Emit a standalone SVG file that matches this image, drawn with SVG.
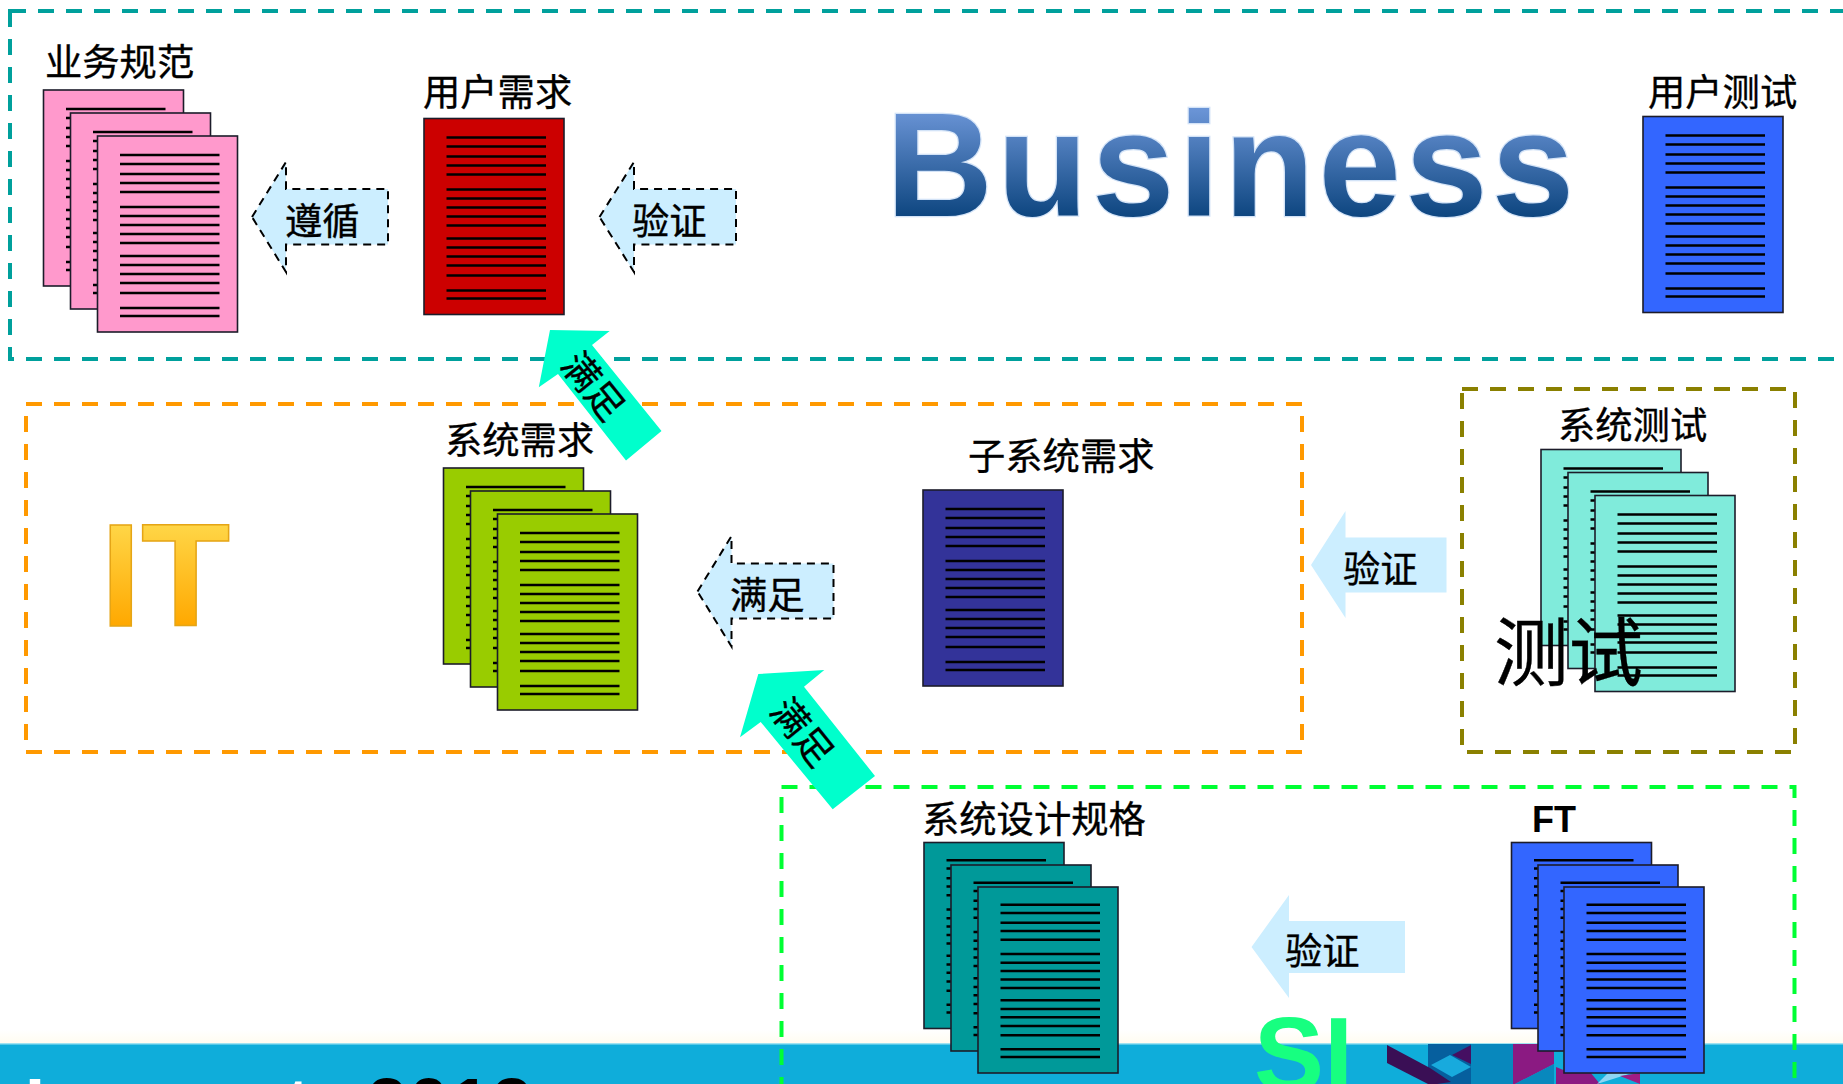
<svg xmlns="http://www.w3.org/2000/svg" xmlns:xlink="http://www.w3.org/1999/xlink" width="1843" height="1084" viewBox="0 0 1843 1084">
<style>
.t{font-family:"Noto Sans CJK SC","Noto Sans CJK JP",sans-serif;font-size:37.300px;fill:#000;stroke:#000;stroke-width:.35}
.b{font-family:"Liberation Sans",Arial,sans-serif;font-weight:700}
.box{fill:none;stroke-width:4;stroke-dasharray:16 12}
.page{stroke:#1c1c2a;stroke-width:1.6}
.ln{fill:none;stroke:#000;stroke-width:2.5}
.da{fill:#cceeff;stroke:#000;stroke-width:2;stroke-dasharray:8 6}
.sa{fill:#cceeff}
.ma{fill:#00ffcc}
</style>
<defs>
<linearGradient id="bizg" gradientUnits="userSpaceOnUse" x1="0" y1="110" x2="0" y2="216"><stop offset="0" stop-color="#6a94d6"/><stop offset="1" stop-color="#0e4680"/></linearGradient>
<linearGradient id="itg" gradientUnits="userSpaceOnUse" x1="0" y1="520" x2="0" y2="626"><stop offset="0" stop-color="#ffd84a"/><stop offset="1" stop-color="#ffa800"/></linearGradient>
<linearGradient id="fade" x1="0" y1="0" x2="0" y2="1"><stop offset="0" stop-color="#ffffff"/><stop offset="1" stop-color="#fffcf0"/></linearGradient>
<path id="lines" class="ln" d="M22.5 19H122M22.5 28H122M22.5 38H122M22.5 47H122M22.5 56H122M22.5 71H122M22.5 80H122M22.5 89H122M22.5 98H122M22.5 107H122M22.5 120H122M22.5 129H122M22.5 138H122M22.5 147H122M22.5 157H122M22.5 172H122M22.5 180H122"/>
<path id="lines-s" class="ln" d="M22.5 17.7H122M22.5 26H122M22.5 35.7H122M22.5 44H122M22.5 52.7H122M22.5 67H122M22.5 75.7H122M22.5 84H122M22.5 92.5H122M22.5 101H122M22.5 113.3H122M22.5 122H122M22.5 130.3H122M22.5 139H122M22.5 148.3H122M22.5 162.3H122M22.5 170H122"/>
<g id="page"><rect class="page" width="140" height="196"/><use href="#lines"/></g>
<g id="page-s"><rect class="page" width="140" height="186"/><use href="#lines-s"/></g>
</defs>
<rect width="1843" height="1084" fill="#fff"/>

<g id="banner">
<rect x="0" y="1030" width="1843" height="13" fill="url(#fade)"/>
<rect x="0" y="1043" width="1843" height="41" fill="#0fadda"/>
<rect x="0" y="1043" width="1843" height="1.5" fill="#9fe3f2"/>
<rect x="1428" y="1044" width="85" height="40" fill="#0888bd"/>
<rect x="1428" y="1044" width="43" height="40" fill="#065f9e"/>
<polygon points="1387,1045 1430,1068 1451,1082 1437,1084 1428,1084 1387,1063" fill="#3a0f55"/>
<polygon points="1431,1065 1450,1055 1471,1067 1452,1077" fill="#18aadd"/>
<polygon points="1452,1055 1471,1045 1471,1064" fill="#450f62"/>
<polygon points="1513,1044 1554,1044 1554,1064 1515,1084 1513,1084" fill="#8b1a82"/>
<polygon points="1554,1064 1554,1084 1515,1084" fill="#0888bd"/>
<polygon points="1556,1067 1598,1084 1556,1084" fill="#8b1a82"/>
<polygon points="1564,1072 1590,1072 1600,1084 1564,1084" fill="#8b1a82"/>
<polygon points="1597,1084 1608,1073 1632,1073" fill="#8ed6f4"/>
<polygon points="1620,1076 1640,1073 1640,1084" fill="#a01c84"/>
<text class="b" x="25" y="1129" font-size="72" fill="#fff" textLength="285">Impact</text>
<text class="b" x="367" y="1129" font-size="72" fill="#000" textLength="165">2013</text>
</g>

<g id="region-business"><rect class="box" x="10" y="11" width="1900" height="348" stroke="#00a09c"/></g>
<g id="region-it"><rect class="box" x="26" y="404" width="1276" height="348" stroke="#ff9900"/></g>
<g id="region-test"><rect class="box" x="1462" y="389" width="333" height="363" stroke="#8a8000"/></g>
<g id="region-si"><rect class="box" x="781.500" y="787" width="1013" height="400" stroke="#00ff33"/></g>

<g id="business-label"><text class="b" x="886" y="216" font-size="148" fill="url(#bizg)" stroke="#d3e3f7" stroke-width="2.500" paint-order="stroke" letter-spacing="4.300">Business</text></g>
<g id="it-label"><text class="b" x="100.500" y="626" font-size="146" fill="url(#itg)" stroke="#e5a516" stroke-width="1.500">IT</text></g>

<g id="doc-business-spec" fill="#ff99cc">
<text class="t" x="45" y="75.500">业务规范</text>
<use href="#page" x="43.500" y="90"/><use href="#page" x="70.500" y="113"/><use href="#page" x="97.500" y="136"/>
</g>
<g id="doc-user-req" fill="#cc0000">
<text class="t" x="423" y="105.500">用户需求</text>
<use href="#page" x="424" y="118.500"/>
</g>
<g id="doc-user-test" fill="#3366ff">
<text class="t" x="1648" y="105.500">用户测试</text>
<use href="#page" x="1643" y="116.500"/>
</g>
<g id="doc-sys-req" fill="#99cc00">
<text class="t" x="445" y="453.500">系统需求</text>
<use href="#page" x="443.500" y="468"/><use href="#page" x="470.500" y="491"/><use href="#page" x="497.500" y="514"/>
</g>
<g id="doc-subsys-req" fill="#333399">
<text class="t" x="968" y="469.500">子系统需求</text>
<use href="#page" x="923" y="490"/>
</g>
<g id="doc-sys-test" fill="#80ebdb">
<text class="t" x="1558" y="438.500">系统测试</text>
<use href="#page" x="1541" y="449.500"/><use href="#page" x="1568" y="472.500"/><use href="#page" x="1595" y="495.500"/>
</g>
<g id="doc-sys-design" fill="#009999">
<text class="t" x="922" y="832.500">系统设计规格</text>
<use href="#page-s" x="924" y="842.500"/><use href="#page-s" x="951" y="865"/><use href="#page-s" x="978" y="887"/>
</g>
<g id="doc-ft" fill="#3366ff">
<text class="b" x="1532" y="832" font-size="36" fill="#000">FT</text>
<use href="#page-s" x="1511.500" y="842.500"/><use href="#page-s" x="1538" y="865"/><use href="#page-s" x="1564" y="887"/>
</g>

<g id="test-label"><text class="t" x="1494" y="680" style="font-size:74.500px">测试</text></g>
<g id="si-label"><text class="b" x="1254" y="1091" font-size="105" fill="#17ff80">SI</text></g>

<g id="connectors">
<g id="arrow-follow"><polygon class="da" points="252,217 286,162 286,189 388,189 388,244.500 286,244.500 286,272"/><text class="t" x="285" y="234.500">遵循</text></g>
<g id="arrow-verify-1"><polygon class="da" points="599.500,217 634,162 634,189 736,189 736,244.500 634,244.500 634,272"/><text class="t" x="632" y="234.500">验证</text></g>
<g id="arrow-satisfy-h"><polygon class="da" points="697.500,591.500 731.500,536 731.500,563.500 833.500,563.500 833.500,618.500 731.500,618.500 731.500,646.500"/><text class="t" x="730" y="608.500">满足</text></g>
<g id="arrow-verify-2"><polygon class="sa" points="1311,565 1345.500,511 1345.500,537.500 1446.500,537.500 1446.500,592.500 1345.500,592.500 1345.500,618"/><text class="t" x="1343" y="582.500">验证</text></g>
<g id="arrow-verify-3"><polygon class="sa" points="1251.500,947 1289,895 1289,921 1405,921 1405,973 1289,973 1289,998"/><text class="t" x="1285" y="964.500">验证</text></g>
<g id="arrow-satisfy-1"><polygon class="ma" points="538.800,387.300 550,330 609.700,331 592,345 661.500,431 626,460.600 558,374"/><text class="t" text-anchor="middle" transform="translate(592 387) rotate(51)" y="12">满足</text></g>
<g id="arrow-satisfy-2"><polygon class="ma" points="740,737.300 758.300,674 824.300,670 804,686.700 875,776 832.700,809.300 760.700,722"/><text class="t" text-anchor="middle" transform="translate(801 733) rotate(51)" y="12">满足</text></g>
</g>
</svg>
